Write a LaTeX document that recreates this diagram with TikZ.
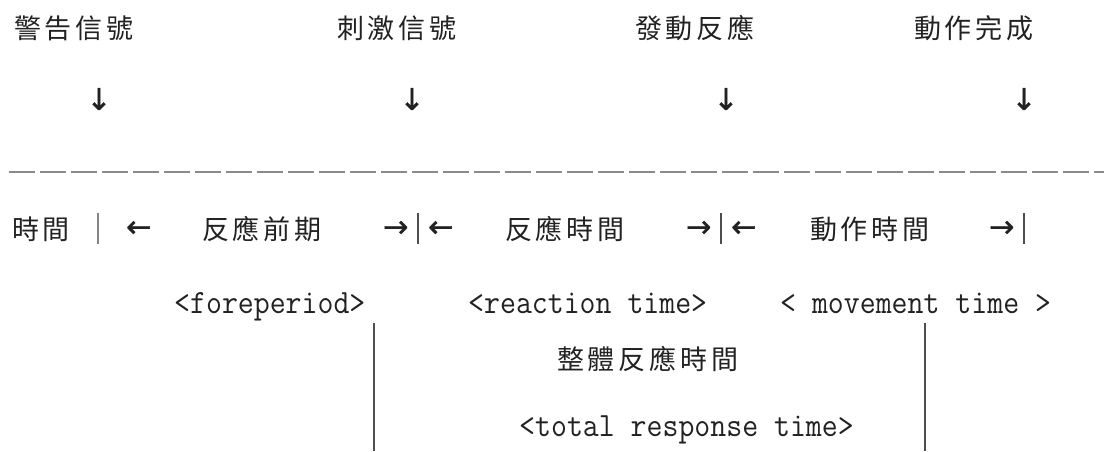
\documentclass[tikz,border=0pt]{standalone}
\usepackage{fontspec}
\newfontfamily\cjk[LetterSpace=14]{Noto Sans CJK TC}
\newfontfamily\monofnt[FakeStretch=0.91]{Latin Modern Mono}
\newfontfamily\arrowfnt[FakeBold=1.2]{DejaVu Sans}
\definecolor{ink}{HTML}{222222}
\definecolor{rule}{HTML}{8A8A8A}
\begin{document}
\begin{tikzpicture}[x=1pt,y=-1pt,
  zh/.style={anchor=west,inner sep=0pt,text=ink,font=\cjk\fontsize{27}{27}\selectfont},
  en/.style={anchor=base west,inner sep=0pt,text=ink,font=\monofnt\fontsize{34}{34}\selectfont},
  arr/.style={anchor=center,inner sep=0pt,text=ink,font=\arrowfnt\fontsize{30}{30}\selectfont},
  bar/.style={draw=ink!80,line width=1.1pt},
  frame/.style={draw=ink!80,line width=1.1pt}]
\useasboundingbox[fill=white] (0,0) rectangle (1104,451);
% row 1
\node[zh] (warn) at (14,28) {警告信號};
\node[zh] (stim) at (337,28) {刺激信號};
\node[zh] (start) at (635,28) {發動反應};
\node[zh] (done) at (914,28) {動作完成};
% row 2 arrows
\node[arr] (d1) at (99,99) {↓};
\node[arr] (d2) at (412,99) {↓};
\node[arr] (d3) at (726,99) {↓};
\node[arr] (d4) at (1024,99) {↓};
% dashed rule
\coordinate (rl) at (9,172);
\coordinate (rr) at (1104,172);
\draw[rule,line width=1.2pt,dash pattern=on 26pt off 5pt] (rl) -- (rr);
% row 4
\node[zh] (time) at (12,229) {時間};
\coordinate (b1t) at (98,213); \coordinate (b1b) at (98,244);
\draw[bar,draw=ink!55] (b1t) -- (b1b);
\node[arr,anchor=west] (l1) at (126,229) {←};
\node[zh] (fore) at (202,229) {反應前期};
\node[arr,anchor=west] (r1) at (383,229) {→};
\coordinate (b2t) at (418,213); \coordinate (b2b) at (418,244);
\draw[bar] (b2t) -- (b2b);
\node[arr,anchor=west] (l2) at (428,229) {←};
\node[zh] (react) at (505,229) {反應時間};
\node[arr,anchor=west] (r2) at (686,229) {→};
\coordinate (b3t) at (721,213); \coordinate (b3b) at (721,244);
\draw[bar] (b3t) -- (b3b);
\node[arr,anchor=west] (l3) at (731,229) {←};
\node[zh] (move) at (810,229) {動作時間};
\node[arr,anchor=west] (r3) at (989,229) {→};
\coordinate (b4t) at (1024,213); \coordinate (b4b) at (1024,244);
\draw[bar] (b4t) -- (b4b);
% row 5
\node[en] (foreen) at (174,313) {<foreperiod>};
\node[en] (reacten) at (468,313) {<reaction time>};
\node[en] (moveen) at (780,313) {< movement time >};
% row 6
\coordinate (vlt) at (374,323); \coordinate (vlb) at (374,451);
\coordinate (vrt) at (925,323); \coordinate (vrb) at (925,451);
\draw[frame] (vlt) -- (vlb);
\draw[frame] (vrt) -- (vrb);
\node[zh] (total) at (557,359) {整體反應時間};
\node[en] (totalen) at (519,436) {<total response time>};
\end{tikzpicture}
\end{document}
